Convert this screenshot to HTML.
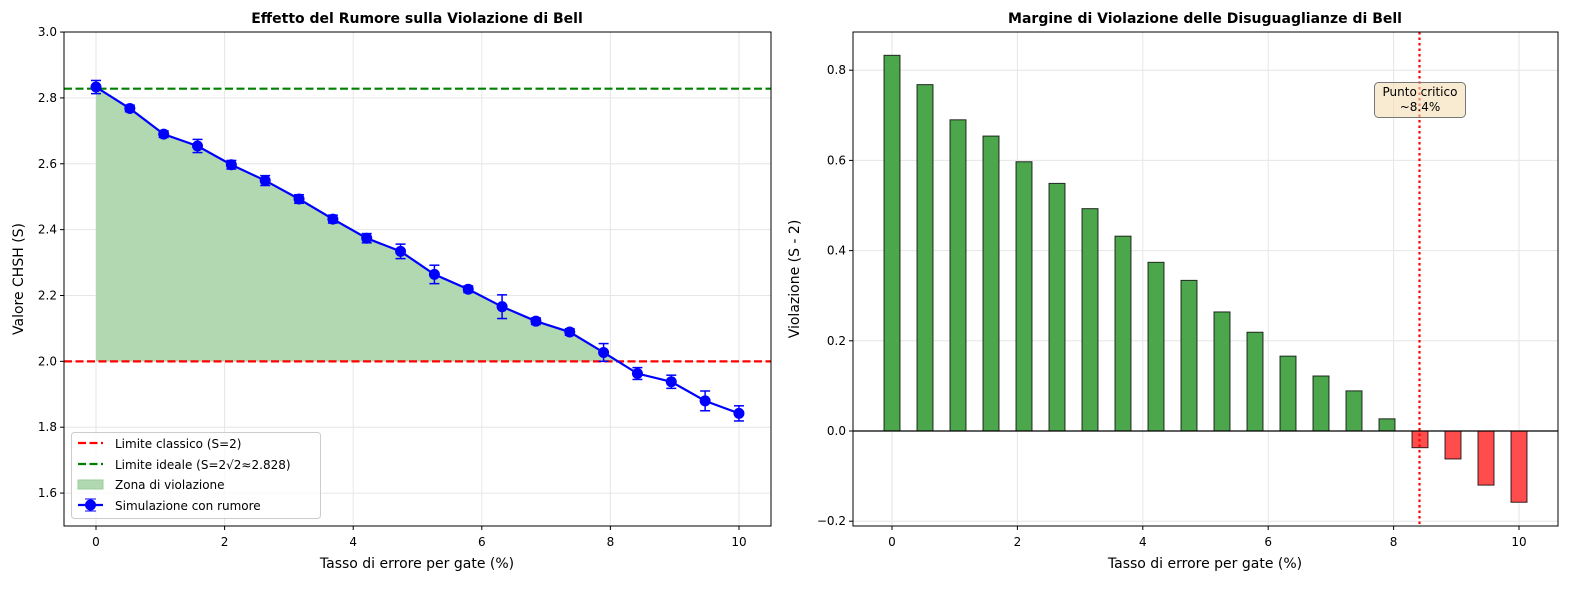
<!DOCTYPE html>
<html><head><meta charset="utf-8"><style>
html,body{margin:0;padding:0;background:#fff;width:1589px;height:590px;overflow:hidden;}
svg{display:block;font-family:"DejaVu Sans","Liberation Sans",sans-serif;}
</style></head><body>
<svg id="s" width="1589" height="590" viewBox="0 0 1589 590" xmlns="http://www.w3.org/2000/svg">
<rect width="1589" height="590" fill="#fff"/>
<g id="g"></g>
</svg>
<script>
var g=document.getElementById('g'),h='';
var S=[2.833,2.768,2.690,2.654,2.597,2.549,2.493,2.432,2.374,2.334,2.264,2.219,2.166,2.122,2.089,2.027,1.963,1.938,1.880,1.842];
var E=[0.02,0.01,0.01,0.02,0.013,0.015,0.013,0.012,0.014,0.022,0.028,0.01,0.036,0.01,0.01,0.027,0.018,0.02,0.03,0.023];
function LX(x){return 96+x*64.3;} function LY(v){return 526-(v-1.5)*329.3;}
function RX(x){return 892+x*62.7;} function RY(v){return 431-v*451;}
[0,2,4,6,8,10].forEach(function(t){var x=LX(t);h+='<line x1="'+x+'" y1="32" x2="'+x+'" y2="526" stroke="#e6e6e6"/>';h+='<line x1="'+x+'" y1="526" x2="'+x+'" y2="530" stroke="#000"/><text x="'+x+'" y="546" font-size="12" text-anchor="middle">'+t+'</text>';});
[1.6,1.8,2.0,2.2,2.4,2.6,2.8,3.0].forEach(function(t){var y=LY(t);h+='<line x1="64" y1="'+y+'" x2="771" y2="'+y+'" stroke="#e6e6e6"/>';h+='<line x1="60" y1="'+y+'" x2="64" y2="'+y+'" stroke="#000"/><text x="57" y="'+(y+4)+'" font-size="12" text-anchor="end">'+t.toFixed(1)+'</text>';});
var p='M96,'+LY(2);for(var i=0;i<16;i++){p+=' L'+(96+i*33.84)+','+LY(S[i]);}p+=' L617.9,'+LY(2)+' Z';
h+='<path d="'+p+'" fill="#b2d8b2"/>';
h+='<line x1="64" y1="'+LY(2)+'" x2="771" y2="'+LY(2)+'" stroke="#f00" stroke-width="2.2" stroke-dasharray="8,3.5"/>';
h+='<line x1="64" y1="'+LY(2.828)+'" x2="771" y2="'+LY(2.828)+'" stroke="#008000" stroke-width="2.2" stroke-dasharray="8,3.5"/>';
var pts='';for(i=0;i<20;i++){var x=96+i*33.84,y=LY(S[i]),e=E[i]*329.3;pts+=x+','+y+' ';
h+='<line x1="'+x+'" y1="'+(y-e)+'" x2="'+x+'" y2="'+(y+e)+'" stroke="#00f" stroke-width="1.5"/><line x1="'+(x-5)+'" y1="'+(y-e)+'" x2="'+(x+5)+'" y2="'+(y-e)+'" stroke="#00f" stroke-width="1.5"/><line x1="'+(x-5)+'" y1="'+(y+e)+'" x2="'+(x+5)+'" y2="'+(y+e)+'" stroke="#00f" stroke-width="1.5"/>';}
h+='<polyline points="'+pts+'" fill="none" stroke="#00f" stroke-width="2.2"/>';
for(i=0;i<20;i++)h+='<circle cx="'+(96+i*33.84)+'" cy="'+LY(S[i])+'" r="5.5" fill="#00f"/>';
h+='<rect x="64" y="32" width="707" height="494" fill="none" stroke="#000"/>';
h+='<rect x="71.5" y="432.5" width="249" height="86" rx="3" fill="#fff" fill-opacity="0.8" stroke="#ccc"/>';
h+='<line x1="78" y1="443" x2="103" y2="443" stroke="#f00" stroke-width="2.2" stroke-dasharray="8,3.5"/><text x="115" y="448" font-size="12">Limite classico (S=2)</text>';
h+='<line x1="78" y1="464" x2="103" y2="464" stroke="#008000" stroke-width="2.2" stroke-dasharray="8,3.5"/><text x="115" y="469" font-size="12">Limite ideale (S=2√2≈2.828)</text>';
h+='<rect x="78" y="480" width="25" height="9" fill="#b2d8b2" stroke="#9c9"/><text x="115" y="489" font-size="12">Zona di violazione</text>';
h+='<line x1="78" y1="505" x2="103" y2="505" stroke="#00f" stroke-width="2.2"/><circle cx="90.5" cy="505" r="5.5" fill="#00f"/><line x1="85" y1="499" x2="96" y2="499" stroke="#00f"/><line x1="85" y1="511" x2="96" y2="511" stroke="#00f"/><line x1="90.5" y1="499" x2="90.5" y2="511" stroke="#00f"/><text x="115" y="510" font-size="12">Simulazione con rumore</text>';
h+='<text x="417" y="23" font-size="14" font-weight="bold" text-anchor="middle">Effetto del Rumore sulla Violazione di Bell</text>';
h+='<text x="417" y="568" font-size="14" text-anchor="middle">Tasso di errore per gate (%)</text>';
h+='<text transform="translate(23,279) rotate(-90)" font-size="14" text-anchor="middle">Valore CHSH (S)</text>';
[0,2,4,6,8,10].forEach(function(t){var x=RX(t);h+='<line x1="'+x+'" y1="32" x2="'+x+'" y2="526" stroke="#e6e6e6"/>';h+='<line x1="'+x+'" y1="526" x2="'+x+'" y2="530" stroke="#000"/><text x="'+x+'" y="546" font-size="12" text-anchor="middle">'+t+'</text>';});
[-0.2,0,0.2,0.4,0.6,0.8].forEach(function(t){var y=RY(t);h+='<line x1="853" y1="'+y+'" x2="1558" y2="'+y+'" stroke="#e6e6e6"/>';h+='<line x1="849" y1="'+y+'" x2="853" y2="'+y+'" stroke="#000"/><text x="846" y="'+(y+4)+'" font-size="12" text-anchor="end">'+(t<0?'−0.2':t.toFixed(1))+'</text>';});
for(i=0;i<20;i++){var v=S[i]-2,x=892+i*33-8,y0=RY(Math.max(v,0)),hh=Math.abs(v)*451;
h+='<rect x="'+x+'" y="'+y0+'" width="16" height="'+hh+'" fill="'+(v>0?'#4ca64c':'#ff4c4c')+'" stroke="#000" stroke-opacity="0.8"/>';}
h+='<line x1="853" y1="431" x2="1558" y2="431" stroke="#000" stroke-width="1.2"/>';
h+='<line x1="1419.5" y1="32" x2="1419.5" y2="526" stroke="#f00" stroke-width="2.2" stroke-dasharray="2.5,3"/>';
h+='<rect x="1374.5" y="82.5" width="91" height="35" rx="4" fill="#f5deb3" fill-opacity="0.6" stroke="#777"/>';
h+='<text x="1420" y="96" font-size="12" text-anchor="middle">Punto critico</text><text x="1420" y="111" font-size="12" text-anchor="middle">~8.4%</text>';
h+='<rect x="853" y="32" width="705" height="494" fill="none" stroke="#000"/>';
h+='<text x="1205" y="23" font-size="14" font-weight="bold" text-anchor="middle">Margine di Violazione delle Disuguaglianze di Bell</text>';
h+='<text x="1205" y="568" font-size="14" text-anchor="middle">Tasso di errore per gate (%)</text>';
h+='<text transform="translate(799,279) rotate(-90)" font-size="14" text-anchor="middle">Violazione (S - 2)</text>';
g.innerHTML=h;
</script>
</body></html>
